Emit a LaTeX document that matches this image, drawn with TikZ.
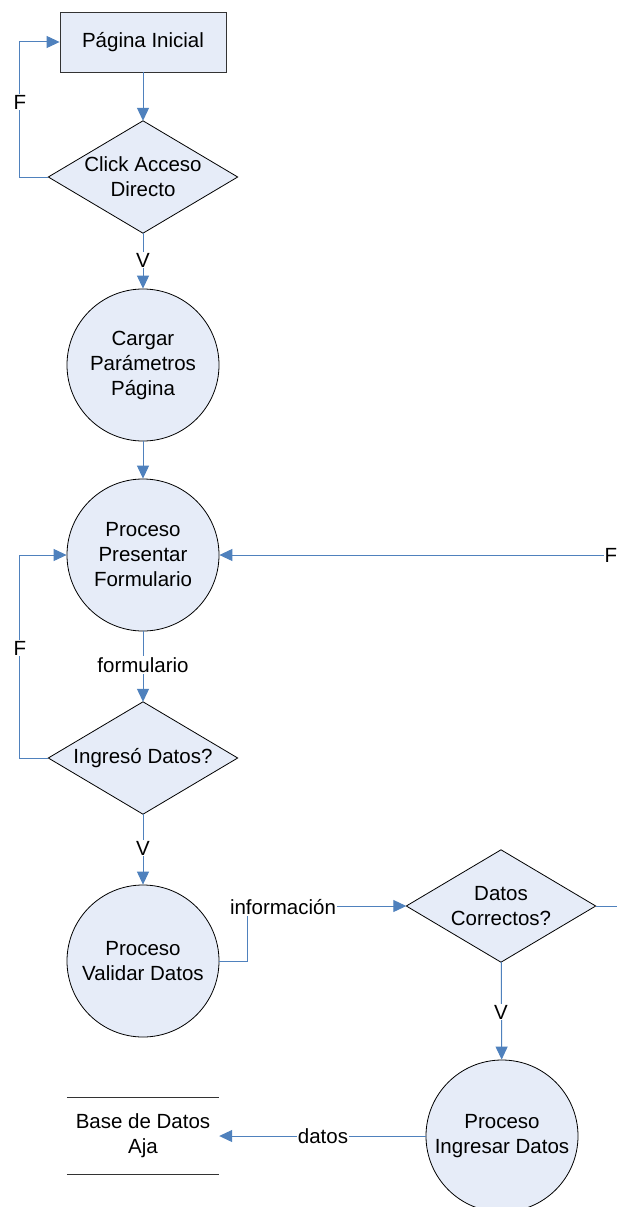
\documentclass[tikz,border=0pt]{standalone}
\usepackage{fontspec}
\setmainfont{Liberation Sans}
\usetikzlibrary{arrows.meta,backgrounds}
\definecolor{fillc}{RGB}{230,236,248}
\definecolor{linec}{RGB}{79,129,189}
\begin{document}
\begin{tikzpicture}[x=1pt,y=-1pt, font=\fontsize{20.5}{25}\selectfont,
 box/.style={draw=black!80, fill=fillc, minimum width=166pt, minimum height=60pt, inner sep=0, line width=0.8pt},
 dec/.style={minimum width=189pt, minimum height=112pt, inner sep=0, align=center},
 decshape/.style={draw=black, fill=fillc, line width=0.8pt, line join=miter},
 proc/.style={circle, draw=black, fill=fillc, minimum size=152pt, inner sep=0, align=center, line width=0.8pt},
 conn/.style={draw=linec, line width=1pt, -{Triangle[length=13pt,width=12pt]}},
 lbl/.style={fill=white, inner sep=1pt}]
\useasboundingbox (0,0) rectangle (617,1207);
\node[box] (pi) at (143,42) {Página Inicial};
\node[dec] (d1) at (143,177) {Click Acceso\\Directo};
\node[proc] (c1) at (143,365) {Cargar\\Parámetros\\Página};
\node[proc] (c2) at (143,555) {Proceso\\Presentar\\Formulario};
\node[dec] (d2) at (143,758) {Ingresó Datos?};
\node[proc] (c3) at (143,961) {Proceso\\Validar Datos};
\node[dec] (d3) at (501,906) {Datos\\Correctos?};
\node[proc] (c4) at (502,1136) {Proceso\\Ingresar Datos};
\node[minimum width=152pt, minimum height=76pt, inner sep=0, align=center] (db) at (143,1136) {Base de Datos\\Aja};
\begin{pgfonlayer}{background}
\fill[white] (0,0) rectangle (617,1207);
\foreach \d in {d1,d2,d3}
  \draw[decshape] (\d.north) -- (\d.east) -- (\d.south) -- (\d.west) -- cycle;
\end{pgfonlayer}
\draw[black!80, line width=0.8pt] (db.north west) -- (db.north east) (db.south west) -- (db.south east);
% connectors
\draw[conn] (pi) -- (d1);
\draw[conn] (d1.west) -- ++(-29,0) |- (pi.west);
\node[lbl] at (20,102) {F};
\draw[conn] (d1) -- (c1);
\node[lbl] at (143,260) {V};
\draw[conn] (c1) -- (c2);
\draw[conn] (c2) -- (d2);
\node[lbl] at (143,665) {formulario};
\draw[conn] (d2.west) -- ++(-29,0) |- (c2.west);
\node[lbl] at (20,648) {F};
\draw[conn] (d2) -- (c3);
\node[lbl] at (143,848) {V};
\draw[conn] (c3.east) -- (247,961) |- (d3.west);
\node[lbl] at (283,907) {información};
\draw[conn] (d3) -- (c4);
\node[lbl] at (501,1012) {V};
\draw[conn] (c4.west) -- (db.east);
\node[lbl] at (323,1136) {datos};
\draw[conn] (d3.east) -- ++(45,0) |- (c2.east);
\node[lbl] at (611,555) {F};
\end{tikzpicture}
\end{document}
